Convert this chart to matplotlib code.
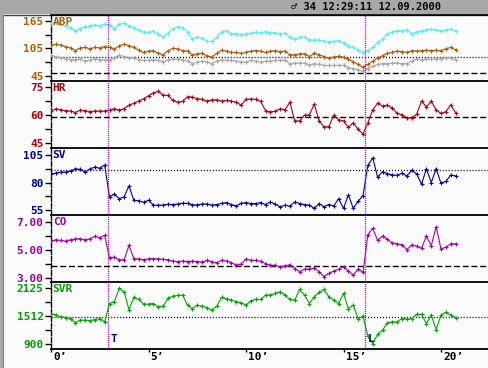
import numpy as np
import matplotlib.pyplot as plt
import matplotlib.transforms as mtransforms
from matplotlib.lines import Line2D
from matplotlib.patches import Rectangle

plt.rcParams['lines.scale_dashes'] = False

# sample times in minutes (one sample every 15 s)
t = np.arange(0, 21, 0.25)

abp_sys = [161, 159, 156, 154, 150, 143, 148, 152, 154, 156, 154, 158,
           156, 147, 158, 159, 154, 150, 145, 140, 140, 142, 136, 129,
           138, 147, 152, 150, 140, 125, 129, 127, 120, 120, 129, 141,
           143, 137, 137, 134, 136, 138, 140, 138, 141, 139, 139, 136,
           138, 129, 125, 129, 129, 123, 123, 123, 120, 119, 120, 122,
           117, 111, 107, 101, 96, 100, 107, 118, 125, 136, 141, 143,
           143, 145, 136, 141, 143, 145, 147, 145, 143, 145, 147, 143]
abp_mean = [112, 114, 112, 109, 106, 100, 106, 107, 104, 107, 106, 109,
            107, 103, 111, 114, 111, 107, 101, 96, 99, 100, 94, 91,
            100, 105, 104, 100, 99, 91, 93, 94, 89, 86, 94, 101,
            99, 96, 96, 94, 96, 99, 100, 99, 96, 99, 100, 98,
            99, 91, 91, 93, 93, 87, 94, 91, 87, 84, 86, 88,
            86, 81, 76, 70, 64, 70, 77, 84, 89, 94, 96, 99,
            98, 96, 100, 99, 100, 101, 100, 101, 100, 104, 107, 102]
abp_dia = [90, 87, 85, 82, 80, 80, 82, 77, 80, 82, 80, 80,
           79, 85, 90, 87, 85, 85, 80, 79, 79, 80, 79, 75,
           80, 82, 82, 80, 77, 72, 75, 77, 75, 72, 77, 80,
           79, 79, 77, 75, 75, 79, 77, 75, 77, 77, 79, 79,
           79, 72, 73, 73, 73, 68, 72, 70, 68, 68, 68, 68,
           68, 63, 61, 59, 55, 61, 66, 70, 72, 72, 73, 73,
           72, 72, 77, 82, 80, 82, 81, 82, 82, 85, 85, 80]
hr = [62.3, 63.5, 63.0, 62.5, 62.3, 61.5, 62.8, 62.5, 62.0, 62.3, 62.3, 62.3,
      62.8, 63.6, 62.8, 63.5, 65.5, 66.4, 67.8, 68.8, 70.5, 72.0, 72.9, 70.8,
      70.7, 68.0, 67.0, 67.5, 70.0, 69.8, 69.0, 68.5, 67.6, 68.3, 68.3, 67.6,
      68.0, 67.6, 67.0, 65.5, 68.5, 68.8, 68.5, 67.5, 62.5, 61.8, 62.2, 63.5,
      63.0, 67.0, 57.0, 57.0, 60.0, 60.3, 66.0, 57.0, 53.8, 54.0, 60.0, 57.6,
      57.0, 53.5, 56.0, 52.5, 50.0, 56.0, 63.0, 66.5, 65.0, 65.5, 64.0, 61.0,
      60.4, 58.6, 58.8, 60.5, 67.7, 64.5, 67.5, 63.0, 61.0, 62.0, 65.6, 61.5]
sv = [87.8, 88.5, 89.5, 89.4, 90.5, 92.5, 92.0, 89.5, 92.5, 94.0, 93.0, 96.0,
      66.8, 69.7, 65.3, 67.0, 77.0, 63.8, 63.5, 62.0, 64.0, 59.5, 59.4, 59.5,
      60.3, 60.0, 60.5, 61.2, 61.0, 59.7, 59.7, 60.5, 60.5, 59.4, 60.0, 61.0,
      61.8, 60.0, 58.8, 61.0, 61.8, 60.9, 60.9, 61.8, 60.0, 62.4, 60.3, 58.0,
      59.4, 58.5, 62.4, 60.9, 60.0, 59.4, 56.5, 60.9, 58.0, 60.0, 58.8, 65.3,
      56.5, 68.8, 56.5, 62.9, 68.2, 95.6, 102.5, 84.7, 90.0, 88.0, 87.0, 86.5,
      88.5, 86.0, 91.0, 88.0, 78.5, 92.5, 80.0, 92.5, 79.4, 81.0, 86.9, 86.0]
co = [5.63, 5.73, 5.68, 5.63, 5.73, 5.80, 5.80, 5.73, 5.80, 5.98, 5.88, 6.05,
      4.44, 4.49, 4.30, 4.30, 5.32, 4.37, 4.37, 4.30, 4.37, 4.37, 4.37, 4.33,
      4.30, 4.20, 4.17, 4.21, 4.17, 4.20, 4.17, 4.14, 4.25, 4.14, 4.10, 4.25,
      4.21, 4.10, 3.91, 4.00, 4.35, 4.26, 4.26, 4.19, 4.02, 3.91, 3.91, 3.79,
      3.86, 3.95, 3.67, 3.44, 3.63, 3.63, 3.72, 3.44, 3.09, 3.33, 3.49, 3.63,
      3.80, 3.50, 3.21, 3.63, 3.39, 6.10, 6.54, 5.68, 6.00, 5.75, 5.51, 5.44,
      5.37, 5.02, 5.37, 5.27, 5.12, 6.00, 5.30, 6.66, 5.07, 5.20, 5.44, 5.44]
svr = [1571, 1541, 1497, 1483, 1453, 1365, 1424, 1424, 1416, 1438, 1460, 1387,
       1791, 1835, 2122, 2049, 1659, 1924, 1880, 1777, 1777, 1791, 1718, 1732,
       1902, 1953, 1968, 1975, 1755, 1681, 1755, 1732, 1703, 1644, 1732, 1924,
       1894, 1865, 1835, 1806, 1755, 1850, 1880, 1880, 1975, 1975, 2012, 2049,
       1975, 1880, 1865, 2100, 1975, 1791, 1938, 2034, 2100, 1938, 1865, 1791,
       2012, 1681, 1755, 1460, 1512, 1071, 909, 1115, 1203, 1365, 1387, 1387,
       1460, 1453, 1453, 1556, 1556, 1350, 1534, 1218, 1534, 1600, 1534, 1483]

# events (minutes) and their marks
events = [2.94, 16.1]
event_marks = ['T', 'L']

x_ticks = [0, 5, 10, 15, 20]
x_labels = ["0’", "5’", "10’", "15’", "20’"]

W, H = 489, 368
MONO = ['DejaVu Sans Mono', 'DejaVu Sans']
DASHED = (0, (4.3, 2.0))
DOTTED = (0, (0.75, 1.4))

# name, top px, bottom px, ylim, ticks, tick labels, color, series, reference lines
panels = [
    ('ABP', 15, 81, (34.1, 177.4), [45, 105, 165], ['45', '105', '165'], '#b0600c',
     [(abp_sys, '#50f0f0'), (abp_mean, '#b45a0c'), (abp_dia, '#a8a8a8')],
     [(86, DOTTED), (52, DASHED)]),
    ('HR', 81, 148, (42.5, 78.4), [45, 60, 75], ['45', '60', '75'], '#b00010',
     [(hr, '#b80014')], [(59, DASHED)]),
    ('SV', 148, 215, (50.5, 111.4), [55, 80, 105], ['55', '80', '105'], '#0000a0',
     [(sv, '#0000b0')], [(91, DOTTED)]),
    ('CO', 215, 282, (2.71, 7.5), [3, 5, 7], ['3.00', '5.00', '7.00'], '#a000a8',
     [(co, '#a800b0')], [(3.84, DASHED)]),
    ('SVR', 282, 349, (790, 2264), [900, 1512, 2125], ['900', '1512', '2125'], '#00a000',
     [(svr, '#00a800')], [(1485, DOTTED)]),
]

fig = plt.figure(figsize=(W / 100, H / 100), dpi=100, facecolor='#a8a8a8')
fig.patches.append(Rectangle((3 / W, 0), 1, 1 - 14 / H, transform=fig.transFigure,
                             facecolor='#fcfcfc', edgecolor='none', zorder=-2))
fig.lines.append(Line2D([3 / W, 1], [1 - 14.5 / H] * 2, transform=fig.transFigure,
                        color='#404040', lw=1, zorder=-1))
fig.lines.append(Line2D([3.5 / W] * 2, [0, 1 - 14.5 / H], transform=fig.transFigure,
                        color='#808080', lw=0.8, zorder=-1))

fig.text(366 / W, 1 - 7.5 / H, '♂ 34 12:29:11 12.09.2000', ha='center', va='center',
         fontsize=7.5, weight='bold', family=MONO, color='black')

axes = []
for i, (name, top, bot, ylim, ticks, tlabels, col, series, refs) in enumerate(panels):
    ax = fig.add_axes([51 / W, 1 - bot / H, 438 / W, (bot - top) / H])
    ax.set_facecolor('none')
    ax.set_xlim(0, (W - 51) / 19.5)
    ax.set_ylim(*ylim)

    for val, ls in refs:
        ax.axhline(val, color='black', lw=1, ls=ls, zorder=1)
    for ev in events:
        ax.axvline(ev, color='#b000c0', lw=1, ls=(0, (0.75, 0.75)), zorder=4)
    for vals, c in series:
        ax.plot(t, vals, color=c, lw=0.8, marker='+', ms=3.5, mew=0.8, zorder=3)

    ax.spines['right'].set_visible(False)
    ax.spines['top'].set_visible(i == 0)
    ax.spines['top'].set_linewidth(1.2)
    ax.spines['bottom'].set_linewidth(1.3)
    ax.spines['left'].set_linestyle((0, (3.6, 1.4)))
    ax.spines['left'].set_linewidth(1.0)

    ax.set_yticks(ticks)
    ax.set_yticklabels(tlabels)
    ax.set_yticks([(ticks[0] + ticks[1]) / 2, (ticks[1] + ticks[2]) / 2], minor=True)
    ax.tick_params(axis='y', which='both', direction='out', length=4.3, width=1,
                   pad=1, labelsize=8, labelcolor=col)
    for lbl in ax.get_yticklabels():
        lbl.set_family(MONO)
        lbl.set_weight('bold')

    ax.annotate(name, xy=(0, 1), xycoords='axes fraction', xytext=(1.2, -1.5),
                textcoords='offset points', ha='left', va='top', color=col,
                fontsize=8, weight='bold', family=MONO)
    axes.append(ax)

for ax in axes[:-1]:
    ax.set_xticks([])

bottom = axes[-1]
bottom.set_xticks(x_ticks)
bottom.set_xticklabels(x_labels)
bottom.tick_params(axis='x', direction='out', length=2.2, width=1, pad=0.3,
                   labelsize=8, labelcolor='black')
shift = mtransforms.ScaledTranslation(1.5 / 72, 0, fig.dpi_scale_trans)
for lbl in bottom.get_xticklabels():
    lbl.set_ha('left')
    lbl.set_family(MONO)
    lbl.set_weight('bold')
    lbl.set_transform(lbl.get_transform() + shift)

for ev, mark in zip(events, event_marks):
    bottom.annotate(mark, xy=(ev, 0), xycoords=('data', 'axes fraction'),
                    xytext=(1.8, 5), textcoords='offset points', ha='left',
                    va='baseline', color='#0000a0', fontsize=8, weight='bold',
                    family=MONO, zorder=5)

fig.savefig('out.png', dpi=100, facecolor=fig.get_facecolor())
